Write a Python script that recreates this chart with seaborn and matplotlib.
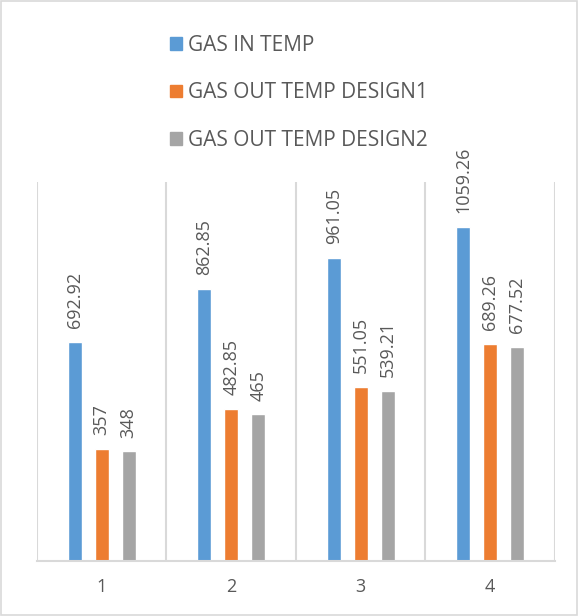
import pandas as pd
import matplotlib.pyplot as plt
import seaborn as sns
from matplotlib.patches import Patch, Rectangle

categories = ["1", "2", "3", "4"]
series = ["GAS IN TEMP", "GAS OUT TEMP DESIGN1", "GAS OUT TEMP DESIGN2"]
gas_in = [692.92, 862.85, 961.05, 1059.26]
gas_out_1 = [357, 482.85, 551.05, 689.26]
gas_out_2 = [348, 465, 539.21, 677.52]
value_labels = [
    ["692.92", "862.85", "961.05", "1059.26"],
    ["357", "482.85", "551.05", "689.26"],
    ["348", "465", "539.21", "677.52"],
]
colors = ["#5B9BD5", "#ED7D31", "#A5A5A5"]

df = pd.DataFrame({
    "cat": categories * 3,
    "serie": [s for s in series for _ in categories],
    "valor": gas_in + gas_out_1 + gas_out_2,
})

sns.set_style("white")
plt.rcParams["font.family"] = ["Open Sans", "DejaVu Sans"]
txt = "#595959"
grid = "#D9D9D9"

fig = plt.figure(figsize=(5.78, 6.16), dpi=100)
ax = fig.add_axes([0.064, 0.0885, 0.896, 0.616])

sns.barplot(data=df, x="cat", y="valor", hue="serie", palette=colors,
            width=0.625, gap=0.48, ax=ax, legend=False, saturation=1)

for cont, labs in zip(ax.containers, value_labels):
    ax.bar_label(cont, labels=labs, rotation=90, padding=10, color=txt, fontsize=13)

# separadores entre categorias
for xv in [-0.5, 0.5, 1.5, 2.5, 3.5]:
    ax.axvline(xv, color=grid, lw=1.5, zorder=0)

ax.set_xlim(-0.5, 3.5)
ax.set_ylim(0, 1200)
ax.set_yticks([])
ax.set_xlabel("")
ax.set_ylabel("")
for s in ["top", "left", "right"]:
    ax.spines[s].set_visible(False)
ax.spines["bottom"].set_color(grid)
ax.spines["bottom"].set_linewidth(1.5)
ax.tick_params(axis="x", length=0, pad=12, labelsize=13, labelcolor=txt)

handles = [Patch(color=c) for c in colors]
fig.legend(handles, series, loc="upper left", bbox_to_anchor=(0.262, 0.974),
           frameon=False, fontsize=15, labelcolor=txt, handlelength=0.55,
           handleheight=0.55, handletextpad=0.3, labelspacing=1.27)

# borde del grafico
fig.patches.append(Rectangle((0.002, 0.002), 0.996, 0.996, transform=fig.transFigure,
                             fill=False, edgecolor=grid, lw=1.2))

fig.savefig("out.png", dpi=100)
